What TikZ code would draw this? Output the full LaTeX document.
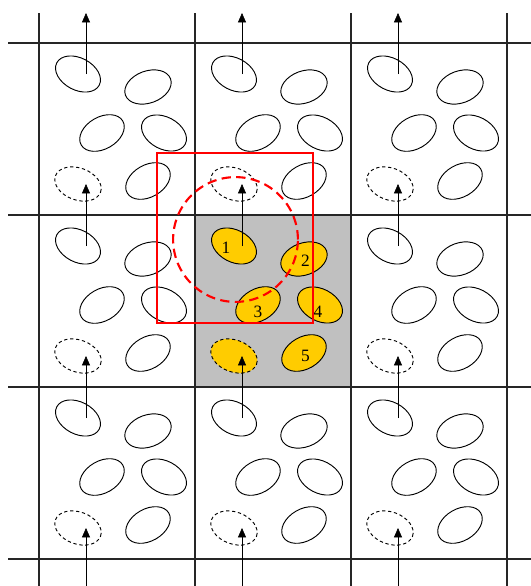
\documentclass[tikz,border=0pt]{standalone}
\usepackage{fontspec}
\setmainfont{Liberation Serif}
\usetikzlibrary{arrows.meta, shapes.geometric}

\definecolor{cellgray}{RGB}{192,192,192}
\definecolor{grainyellow}{RGB}{255,204,0}
\definecolor{cutred}{RGB}{255,0,0}

\begin{document}
\begin{tikzpicture}[
                x=0.75pt, y=-0.75pt,
                grain/.style={ellipse, draw, line width=0.7pt, minimum width=36pt, minimum height=24pt, inner sep=0pt},
                ghost/.style={grain, dash pattern=on 2.5pt off 2pt},
                gridline/.style={line width=0.9pt, black!85},
                num/.style={inner sep=0pt, font=\fontsize{13}{15}\selectfont},
                >={Triangle[length=7pt, width=6pt]}
            ]
            \useasboundingbox (0,0) rectangle (531,586);
            \clip (0,0) rectangle (531,586);

            % home cell
            \fill[cellgray] (195,215) rectangle (351,387);

            \foreach \x in {39,195,351,507}
                \draw[gridline] (\x,13) -- (\x,600);
            \foreach \y in {43,215,387,559}
                \draw[gridline] (8,\y) -- (545,\y);

            % particles in every image cell
            \foreach \i in {0,1,2}
                \foreach \j in {0,1,2} {
                    \ifnum\i\j=11 \def\tint{grainyellow}\else\def\tint{white}\fi
                    \begin{scope}[shift={({39+156*\i},{43+172*\j})}]
                        \node[grain, fill=\tint, rotate=-28] (A\i\j) at (39,31) {};
                        \node[grain, fill=\tint, rotate=20] (B\i\j) at (109,44) {};
                        \node[grain, fill=\tint, rotate=30] (C\i\j) at (63,90) {};
                        \node[grain, fill=\tint, rotate=-28] (D\i\j) at (125,90) {};
                        \node[ghost, fill=\tint, rotate=-20] (E\i\j) at (39,141) {};
                        \node[grain, fill=\tint, rotate=30] (F\i\j) at (109,138) {};
                    \end{scope}
                }

            % periodic jumps
            \foreach \i in {0,1,2} {
                \coordinate (T\i) at ({86+156*\i},13);
                \coordinate (S\i) at ({86+156*\i},590);
                \draw[->] ([xshift=6pt]A\i0.center) -- (T\i);
                \draw[->] ([xshift=6pt]A\i1.center) -- ([xshift=6pt]E\i0.center);
                \draw[->] ([xshift=6pt]A\i2.center) -- ([xshift=6pt]E\i1.center);
                \draw[->] (S\i) -- ([xshift=6pt]E\i2.center);
            }

            \node[num] (n1) at ([xshift=-6pt, yshift=-1.5pt]A11.center) {1};
            \node[num] (n2) at ([xshift=1pt, yshift=-1.5pt]B11.center) {2};
            \node[num] (n3) at ([yshift=-5pt]C11.center) {3};
            \node[num] (n4) at ([xshift=-1.5pt, yshift=-5pt]D11.center) {4};
            \node[num] (n5) at ([xshift=1pt, yshift=-2pt]F11.center) {5};

            % cutoff
            \draw[cutred, line width=1.5pt] (157,153) rectangle (313,323);
            \draw[cutred, line width=1.6pt, dash pattern=on 7pt off 4pt] (235.5,239.5) circle (46.8pt);

        \end{tikzpicture}
\end{document}
